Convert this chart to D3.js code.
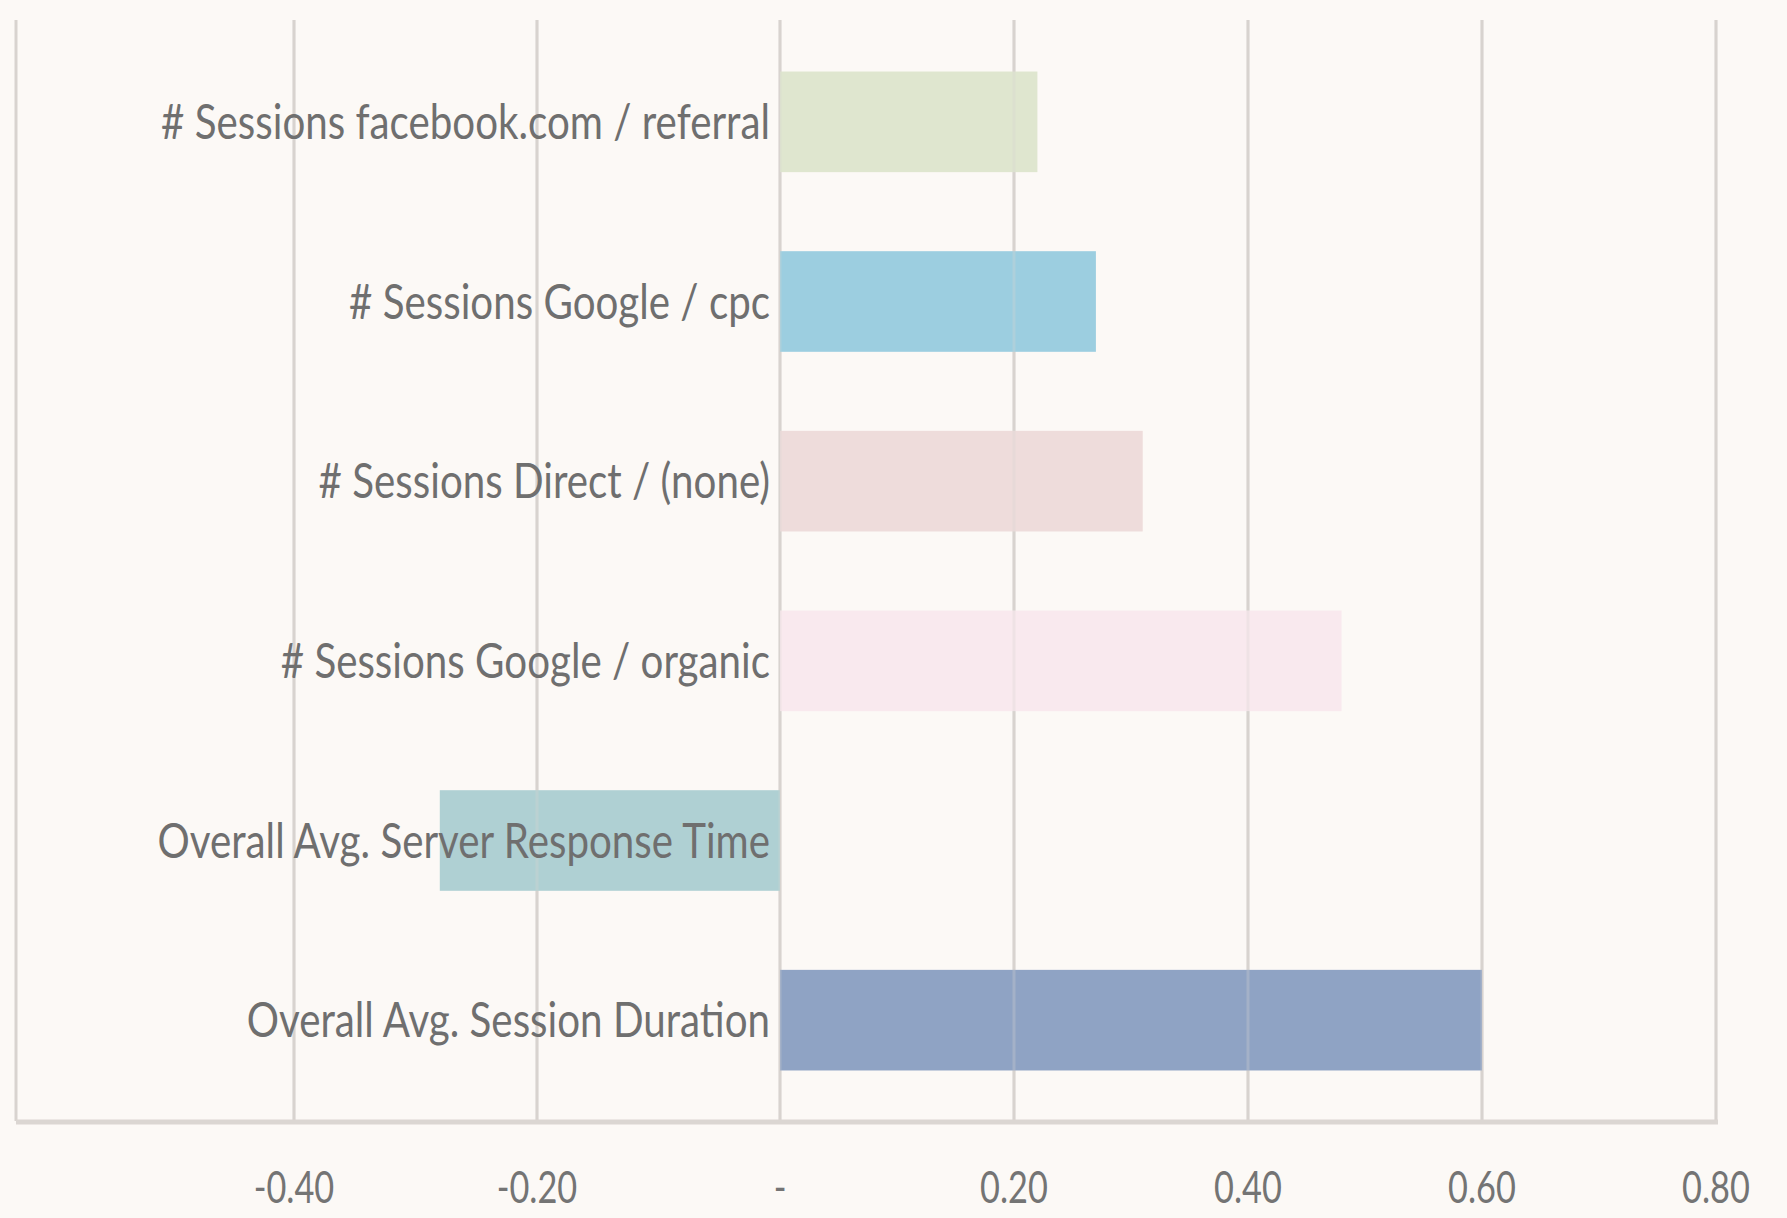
<!DOCTYPE html>
<html>
<head>
<meta charset="utf-8">
<script src="https://cdn.jsdelivr.net/npm/d3@7"></script>
<style>
  html, body { margin: 0; padding: 0; background: #fcf9f6; }
  svg { display: block; }
</style>
</head>
<body>
<div id="chart"></div>
<script>
// categories, top to bottom
const categories = [
  "# Sessions facebook.com / referral",
  "# Sessions Google / cpc",
  "# Sessions Direct / (none)",
  "# Sessions Google / organic",
  "Overall Avg. Server Response Time",
  "Overall Avg. Session Duration"
];
// correlation values
const values = [0.22, 0.27, 0.31, 0.48, -0.28, 0.60];
const barColors = ["#dfe6cf", "#9ccee0", "#eedcdb", "#f9e9ee", "#afd0d3", "#8fa3c4"];
const tickValues = [-0.4, -0.2, 0, 0.2, 0.4, 0.6, 0.8];

const width = 1787, height = 1218;
const plotTop = 20, plotBottom = 1121, frameLeft = 16;

const svg = d3.select("#chart")
  .append("svg")
  .attr("width", width)
  .attr("height", height);

svg.append("rect")
  .attr("width", width)
  .attr("height", height)
  .style("fill", "#fcf9f6");

// x axis: value (negative side is drawn a bit wider in the original)
const x = d3.scaleLinear()
  .domain([-0.4, 0, 0.8])
  .range([294, 780, 1716]);

// y axis: categories
const y = d3.scaleBand()
  .domain(categories)
  .range([32, 1110])
  .paddingInner(0.44)
  .paddingOuter(0.22);

function grid(opacity) {
  svg.append("g")
    .selectAll("line")
    .data(tickValues)
    .enter()
    .append("line")
    .attr("x1", d => x(d))
    .attr("x2", d => x(d))
    .attr("y1", plotTop)
    .attr("y2", plotBottom)
    .style("stroke", "#d8d3cf")
    .style("stroke-opacity", opacity)
    .style("stroke-width", 3);
}
grid(1);

// left frame line
svg.append("line")
  .attr("x1", frameLeft)
  .attr("x2", frameLeft)
  .attr("y1", plotTop)
  .attr("y2", plotBottom)
  .style("stroke", "#d8d3cf")
  .style("stroke-width", 3);

// bars
svg.append("g")
  .selectAll("rect")
  .data(values)
  .enter()
  .append("rect")
  .attr("x", d => x(Math.min(0, d)))
  .attr("y", (d, i) => y(categories[i]))
  .attr("width", d => Math.abs(x(d) - x(0)))
  .attr("height", y.bandwidth())
  .style("fill", (d, i) => barColors[i]);

// faint grid showing through the bars
grid(0.3);

// bottom axis line
svg.append("line")
  .attr("x1", frameLeft)
  .attr("x2", x(0.8) + 2)
  .attr("y1", plotBottom + 1)
  .attr("y2", plotBottom + 1)
  .style("stroke", "#dbd6d2")
  .style("stroke-width", 5);

// category labels, right aligned just left of zero
svg.append("g")
  .selectAll("text")
  .data(categories)
  .enter()
  .append("text")
  .attr("transform", d => `translate(${x(0) - 10}, ${y(d) + y.bandwidth() / 2}) scale(0.84, 1)`)
  .attr("dy", "0.36em")
  .attr("text-anchor", "end")
  .style("font-family", "Lato, 'Open Sans', sans-serif")
  .style("font-size", "48px")
  .style("fill", "#6f6f6f")
  .text(d => d);

// tick labels ("-" for zero, accounting style)
const fmt = d3.format(".2f");
svg.append("g")
  .selectAll("text")
  .data(tickValues)
  .enter()
  .append("text")
  .attr("transform", d => `translate(${x(d)}, 1187) scale(0.78, 1)`)
  .attr("dy", "0.36em")
  .attr("text-anchor", "middle")
  .style("font-family", "Lato, 'Open Sans', sans-serif")
  .style("font-size", "44px")
  .style("fill", "#747474")
  .text(d => d === 0 ? "-" : fmt(d).replace("\u2212", "-"));
</script>
</body>
</html>
